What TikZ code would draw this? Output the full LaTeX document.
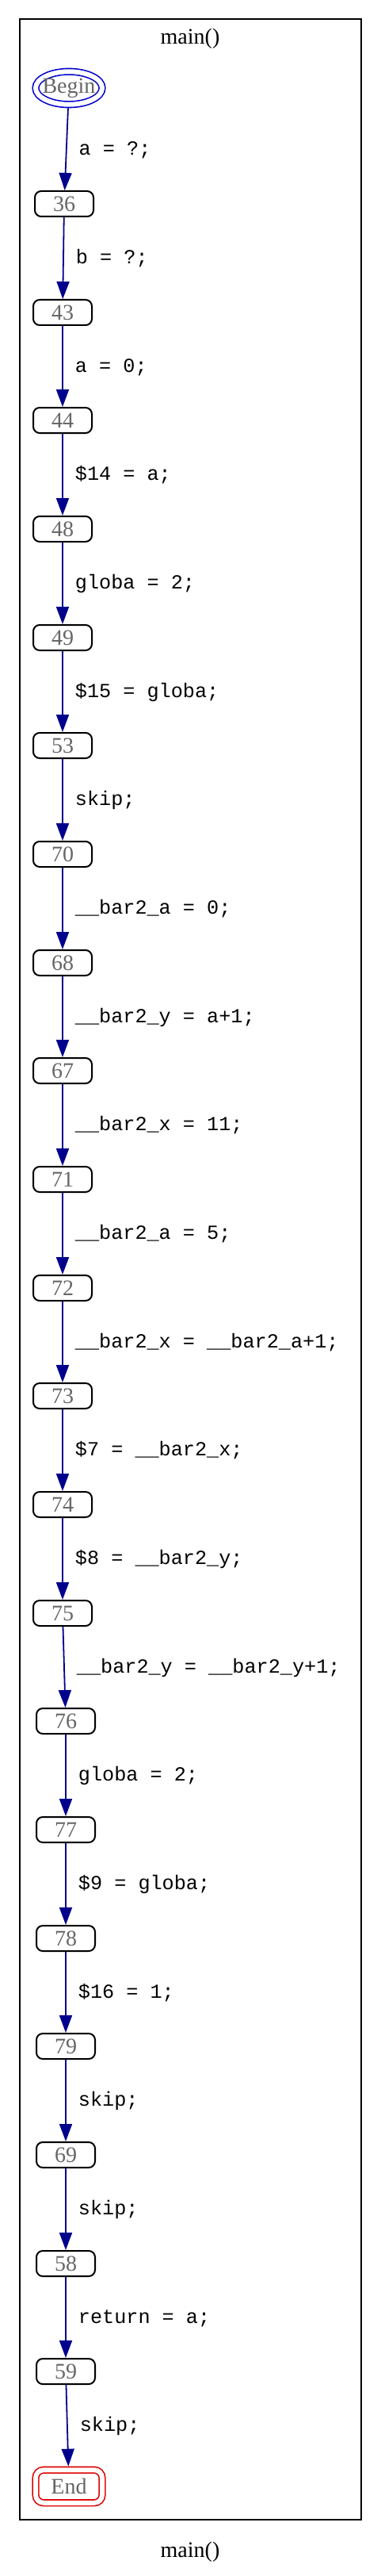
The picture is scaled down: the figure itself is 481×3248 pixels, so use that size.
\documentclass[tikz,border=0pt]{standalone}
\usepackage{fontspec}
\setmainfont{Liberation Serif}
\newfontfamily\codefont{Liberation Mono}
\usetikzlibrary{arrows.meta,shapes.geometric}

\definecolor{edgeblue}{RGB}{0,0,140}
\definecolor{beginblue}{RGB}{0,0,204}
\definecolor{endred}{RGB}{221,0,0}
\definecolor{idgray}{RGB}{102,102,102}

\tikzset{
  cfgnode/.style={draw,line width=1pt,rounded corners=4pt,minimum width=37pt,
    minimum height=16pt,inner sep=0pt,text=idgray,font=\fontsize{14}{16}\selectfont},
  beginnode/.style={ellipse,draw=beginblue,line width=0.8pt,double,double distance=3pt,
    minimum width=42pt,minimum height=20.75pt,inner sep=0pt,outer sep=2.3pt,
    text=idgray,font=\fontsize{14}{16}\selectfont},
  endnode/.style={draw=endred,line width=0.8pt,double,double distance=3pt,rounded corners=5pt,
    minimum width=42pt,minimum height=20.75pt,inner sep=0pt,outer sep=2.3pt,
    text=idgray,font=\fontsize{14}{16}\selectfont},
  flow/.style={draw=edgeblue,line width=0.9pt,-{Triangle[length=11pt,width=8pt]}},
  stmt/.style={anchor=base west,inner sep=0pt,xshift=7.5pt,yshift=-3.5pt,
    font=\codefont\fontsize{12.6}{14}\selectfont}
}

\begin{document}
\begin{tikzpicture}[x=0.5pt,y=-0.5pt]
  \useasboundingbox (0,0) rectangle (481,3248);
  \draw[line width=1pt] (25,24) rectangle (456,3177);
  \node[font=\fontsize{14}{16}\selectfont] (title) at (240,49) {main()};
  \node[font=\fontsize{14}{16}\selectfont] (caption) at (240,3218) {main()};

  % nodes of the flow graph
  \node[beginnode] (begin) at (87,111) {\makebox[0pt]{Begin}};
  \node[cfgnode] (n36) at (81,257) {36};
  \node[cfgnode] (n43) at (79,394) {43};
  \node[cfgnode] (n44) at (79,530) {44};
  \node[cfgnode] (n48) at (79,667) {48};
  \node[cfgnode] (n49) at (79,804) {49};
  \node[cfgnode] (n53) at (79,940) {53};
  \node[cfgnode] (n70) at (79,1077) {70};
  \node[cfgnode] (n68) at (79,1214) {68};
  \node[cfgnode] (n67) at (79,1350) {67};
  \node[cfgnode] (n71) at (79,1487) {71};
  \node[cfgnode] (n72) at (79,1624) {72};
  \node[cfgnode] (n73) at (79,1760) {73};
  \node[cfgnode] (n74) at (79,1897) {74};
  \node[cfgnode] (n75) at (79,2034) {75};
  \node[cfgnode] (n76) at (83,2170) {76};
  \node[cfgnode] (n77) at (83,2307) {77};
  \node[cfgnode] (n78) at (83,2444) {78};
  \node[cfgnode] (n79) at (83,2580) {79};
  \node[cfgnode] (n69) at (83,2717) {69};
  \node[cfgnode] (n58) at (83,2854) {58};
  \node[cfgnode] (n59) at (83,2990) {59};
  \node[endnode] (end) at (87,3135) {End};

  % statements on the edges
  \draw[flow] (begin) -- node[stmt] {a = ?;} (n36);
  \draw[flow] (n36) -- node[stmt] {b = ?;} (n43);
  \draw[flow] (n43) -- node[stmt] {a = 0;} (n44);
  \draw[flow] (n44) -- node[stmt] {\$14 = a;} (n48);
  \draw[flow] (n48) -- node[stmt] {globa = 2;} (n49);
  \draw[flow] (n49) -- node[stmt] {\$15 = globa;} (n53);
  \draw[flow] (n53) -- node[stmt] {skip;} (n70);
  \draw[flow] (n70) -- node[stmt] {\_\_bar2\_a = 0;} (n68);
  \draw[flow] (n68) -- node[stmt] {\_\_bar2\_y = a+1;} (n67);
  \draw[flow] (n67) -- node[stmt] {\_\_bar2\_x = 11;} (n71);
  \draw[flow] (n71) -- node[stmt] {\_\_bar2\_a = 5;} (n72);
  \draw[flow] (n72) -- node[stmt] {\_\_bar2\_x = \_\_bar2\_a+1;} (n73);
  \draw[flow] (n73) -- node[stmt] {\$7 = \_\_bar2\_x;} (n74);
  \draw[flow] (n74) -- node[stmt] {\$8 = \_\_bar2\_y;} (n75);
  \draw[flow] (n75) -- node[stmt] {\_\_bar2\_y = \_\_bar2\_y+1;} (n76);
  \draw[flow] (n76) -- node[stmt] {globa = 2;} (n77);
  \draw[flow] (n77) -- node[stmt] {\$9 = globa;} (n78);
  \draw[flow] (n78) -- node[stmt] {\$16 = 1;} (n79);
  \draw[flow] (n79) -- node[stmt] {skip;} (n69);
  \draw[flow] (n69) -- node[stmt] {skip;} (n58);
  \draw[flow] (n58) -- node[stmt] {return = a;} (n59);
  \draw[flow] (n59) -- node[stmt] {skip;} (end);
\end{tikzpicture}
\end{document}
